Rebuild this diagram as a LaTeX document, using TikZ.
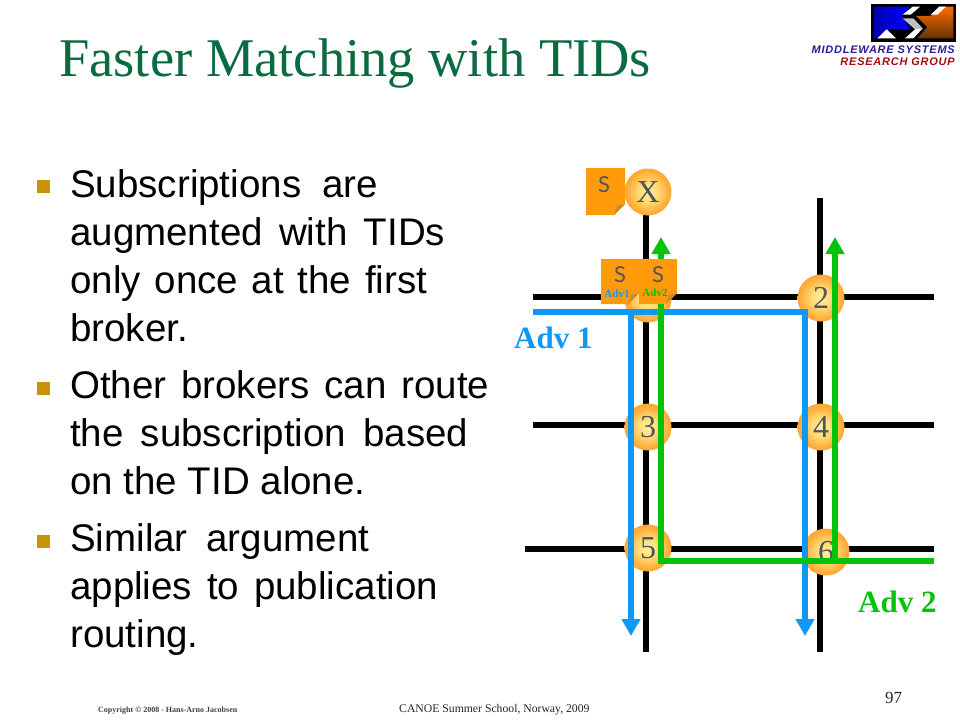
\documentclass[tikz,border=0pt]{standalone}
\usepackage{fontspec}
\setmainfont{Liberation Sans}
\newfontfamily\serifface{Liberation Serif}
\newfontfamily\noteface{Lato}
\usetikzlibrary{arrows.meta}
\definecolor{titlegreen}{HTML}{0B6B40}
\definecolor{bulletgold}{HTML}{C89408}
\definecolor{advblue}{HTML}{0F99F5}
\definecolor{advgreen}{HTML}{05C30A}
\definecolor{noteorange}{HTML}{FF9A0A}
\definecolor{notefold}{HTML}{C88A30}
\definecolor{digitgray}{HTML}{555555}
\definecolor{logoviolet}{HTML}{2A1A9A}
\definecolor{logored}{HTML}{A80A14}
\definecolor{ballA}{HTML}{FFF0A0}
\definecolor{ballB}{HTML}{FFDD78}
\definecolor{ballC}{HTML}{FFB03E}
\definecolor{ballD}{HTML}{FB9C25}
\definecolor{ballE}{HTML}{F59418}
\pgfdeclareradialshading{ballshade}{\pgfpoint{0bp}{0bp}}{%
  color(0bp)=(ballA);
  color(10bp)=(ballB);
  color(21bp)=(ballC);
  color(30bp)=(ballD);
  color(36bp)=(ballE);
  color(50bp)=(ballE)}
\newcommand{\lineto}[2]{\makebox[#1pt][s]{#2}}
\newcommand{\notecard}[4]{% x, y, w, h
  \fill[noteorange] (#1,#2) -- ++(#3,0) -- ++(0,#4-11) -- ++(-11,11) -- ++(-#3+11,0) -- cycle;
  \fill[notefold] (#1+#3,#2+#4-11) -- ++(-8,2) -- ++(-3,9) -- cycle;
}
\tikzset{
  x=1pt,y=-1pt,
  wire/.style={line width=6pt,black},
  advone/.style={line width=6pt,advblue,-{Triangle[length=17pt,width=18pt]}},
  advtwo/.style={line width=6pt,advgreen,-{Triangle[length=17pt,width=18pt]}},
  ball/.style={circle,minimum size=47pt,inner sep=0pt,shading=ballshade,
    font=\serifface\fontsize{32}{32}\selectfont,text=digitgray},
  bodytext/.style={anchor=base west,inner sep=0pt,align=left,
    font=\fontsize{38.5}{48}\selectfont,text=black},
  bulletbox/.style={fill=bulletgold,minimum size=13pt,inner sep=0pt},
  advlabel/.style={anchor=base west,inner sep=0pt,font=\serifface\bfseries\fontsize{31}{31}\selectfont},
  noteS/.style={inner sep=0pt,font=\noteface\fontsize{22}{22}\selectfont,text=digitgray},
  notetag/.style={inner sep=0pt,font=\serifface\bfseries\fontsize{11}{11}\selectfont},
  logotext/.style={anchor=base east,inner sep=0pt,font=\bfseries\itshape\addfontfeatures{LetterSpace=7}\fontsize{11}{11}\selectfont},
}
\begin{document}
\begin{tikzpicture}
\useasboundingbox (0,0) rectangle (960,720);
\fill[white] (0,0) rectangle (960,720);

% title
\node[anchor=base west,inner sep=0pt,text=titlegreen,font=\serifface\fontsize{54.5}{55}\selectfont] (title) at (59,76) {Faster Matching with TIDs};

% logo
\begin{scope}[shift={(860,0)},x=0.3333pt,y=-0.3333pt]
\fill[black] (33,12) rectangle (288,125);
\shade[left color=blue!70!black,right color=blue] (42,20) -- (150,20) -- (126,48) -- (150,88) -- (88,88) -- (62,115) -- (42,115) -- cycle;
\shade[top color=orange!85!red,bottom color=orange!40!black] (168,48) -- (212,48) -- (238,20) -- (280,20) -- (280,115) -- (172,115) -- (202,82) -- cycle;
\fill[white] (128,44) -- (158,20) -- (180,20) -- (152,44) -- cycle;
\fill[white] (212,44) -- (238,20) -- (258,20) -- (232,44) -- cycle;
\fill[white] (52,115) -- (80,88) -- (108,115) -- cycle;
\fill[black!25] (128,55) -- (160,55) -- (188,85) -- (165,88) -- cycle;
\fill[white] (165,88) -- (188,85) -- (160,115) -- (135,115) -- cycle;
\end{scope}
\node[logotext,text=logoviolet] (logoA) at (955,53) {MIDDLEWARE SYSTEMS};
\node[logotext,text=logored] (logoB) at (955,65) {RESEARCH GROUP};

% bullets
\node[bulletbox] (b1) at (43.5,186) {};
\node[bulletbox] (b2) at (43.5,388) {};
\node[bulletbox] (b3) at (43.5,541) {};
\node[bodytext] (t1) at (70,341) {\lineto{308}{Subscriptions are}\\\lineto{375}{augmented with TIDs}\\\lineto{357}{only once at the first}\\broker.};
\node[bodytext] (t2) at (70,494) {\lineto{419}{Other brokers can route}\\\lineto{398}{the subscription based}\\on the TID alone.};
\node[bodytext] (t3) at (70,647) {\lineto{299}{Similar argument}\\\lineto{368}{applies to publication}\\routing.};

% network: end points
\coordinate (h1a) at (533,297); \coordinate (h1b) at (934,297);
\coordinate (h2a) at (533,425); \coordinate (h2b) at (934,425);
\coordinate (h3a) at (525,549); \coordinate (h3b) at (934,549);
\coordinate (v1a) at (646,192); \coordinate (v1b) at (646,652);
\coordinate (v2a) at (820,198); \coordinate (v2b) at (820,652);
\draw[wire] (h1a) -- (h1b);
\draw[wire] (h2a) -- (h2b);
\draw[wire] (h3a) -- (h3b);
\draw[wire] (v1a) -- (v1b);
\draw[wire] (v2a) -- (v2b);

% brokers
\node[ball] (nx) at (648,192) {X};
\node[ball] (n1) at (648,299) {};
\node[ball] (n2) at (821,298) {2};
\node[ball] (n3) at (648,427) {3};
\node[ball] (n4) at (821,427) {4};
\node[ball] (n5) at (648,548) {5};
\node[ball] (n6) at (826,552) {6};

% advertisement trees
\coordinate (a1s) at (533,312); \coordinate (a1m) at (631,312); \coordinate (a1e) at (805,312);
\coordinate (a1x) at (631,636); \coordinate (a1y) at (805,636);
\coordinate (a2s) at (934,561); \coordinate (a2m) at (835,561); \coordinate (a2e) at (661,561);
\coordinate (a2x) at (661,237); \coordinate (a2y) at (835,237);
\draw[advone] (a1s) -- (a1m) -- (a1e) -- (a1y);
\draw[advone] (a1m) -- (a1x);
\draw[advtwo] (a2s) -- (a2m) -- (a2e) -- (a2x);
\draw[advtwo] (a2m) -- (a2y);

% subscription cards
\notecard{586}{168}{39}{47}
\node[noteS] (sx) at (604,185) {S};
\notecard{601}{259}{38}{45}
\notecard{639}{259}{38}{45}
\node[noteS] (s1) at (620,275) {S};
\node[noteS] (s2) at (658,275) {S};
\node[notetag,text=advblue] (tag1) at (617,294) {Adv1};
\node[notetag,text=advgreen] (tag2) at (655,293) {Adv2};

% labels
\node[advlabel,text=advblue] (adv1) at (514,348) {Adv 1};
\node[advlabel,text=advgreen] (adv2) at (858,612) {Adv 2};

% footer
\node[anchor=base west,inner sep=0pt,text=black!75,font=\serifface\bfseries\fontsize{8}{9}\selectfont] (copy) at (98,712) {Copyright © 2008 - Hans-Arno Jacobsen};
\node[anchor=base west,inner sep=0pt,text=black!85,font=\serifface\fontsize{11.7}{12}\selectfont] (canoe) at (399,712) {CANOE Summer School, Norway, 2009};
\node[anchor=base west,inner sep=0pt,text=black!85,font=\serifface\fontsize{17}{17}\selectfont] (page) at (885,703) {97};
\end{tikzpicture}
\end{document}
